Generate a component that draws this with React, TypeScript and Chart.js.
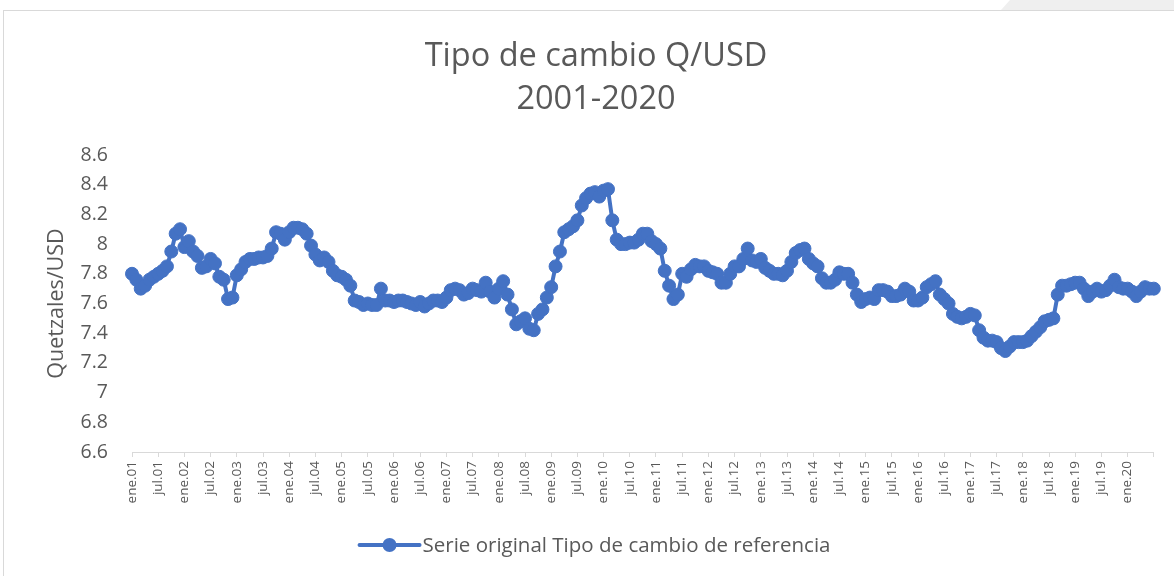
import { useEffect, useRef } from 'react';
import { Chart, registerables } from 'chart.js';

Chart.register(...registerables);

// ---- DATA ----
const yearSuffixes = ['01','02','03','04','05','06','07','08','09','10','11','12','13','14','15','16','17','18','19','20'];
const monthNames = ['ene','feb','mar','abr','may','jun','jul','ago','sep','oct','nov','dic'];

const v2001 = [7.80, 7.76, 7.70, 7.72, 7.76, 7.78, 7.80, 7.82, 7.85, 7.95, 8.07, 8.10];
const v2002 = [7.98, 8.02, 7.95, 7.92, 7.84, 7.85, 7.90, 7.87, 7.78, 7.76, 7.63, 7.64];
const v2003 = [7.79, 7.83, 7.88, 7.90, 7.90, 7.91, 7.91, 7.92, 7.97, 8.08, 8.07, 8.03];
const v2004 = [8.08, 8.11, 8.11, 8.10, 8.07, 7.99, 7.93, 7.89, 7.91, 7.88, 7.82, 7.79];
const v2005 = [7.78, 7.76, 7.72, 7.62, 7.61, 7.59, 7.60, 7.59, 7.59, 7.70, 7.62, 7.62];
const v2006 = [7.61, 7.62, 7.62, 7.61, 7.60, 7.59, 7.61, 7.58, 7.60, 7.62, 7.62, 7.61];
const v2007 = [7.64, 7.69, 7.70, 7.69, 7.66, 7.67, 7.70, 7.69, 7.68, 7.74, 7.68, 7.64];
const v2008 = [7.70, 7.75, 7.66, 7.56, 7.46, 7.48, 7.50, 7.43, 7.42, 7.53, 7.56, 7.64];
const v2009 = [7.71, 7.85, 7.95, 8.08, 8.10, 8.12, 8.16, 8.26, 8.31, 8.34, 8.35, 8.32];
const v2010 = [8.36, 8.37, 8.16, 8.03, 8.00, 8.00, 8.01, 8.01, 8.03, 8.07, 8.07, 8.02];
const v2011 = [8.00, 7.97, 7.82, 7.72, 7.63, 7.66, 7.80, 7.78, 7.83, 7.86, 7.85, 7.85];
const v2012 = [7.82, 7.81, 7.80, 7.74, 7.74, 7.80, 7.85, 7.85, 7.90, 7.97, 7.89, 7.88];
const v2013 = [7.90, 7.84, 7.82, 7.80, 7.80, 7.79, 7.82, 7.88, 7.94, 7.96, 7.97, 7.90];
const v2014 = [7.87, 7.85, 7.77, 7.74, 7.74, 7.76, 7.81, 7.80, 7.80, 7.74, 7.66, 7.61];
const v2015 = [7.63, 7.64, 7.63, 7.69, 7.69, 7.68, 7.65, 7.65, 7.66, 7.70, 7.68, 7.62];
const v2016 = [7.62, 7.64, 7.71, 7.73, 7.75, 7.66, 7.63, 7.60, 7.53, 7.51, 7.50, 7.51];
const v2017 = [7.53, 7.52, 7.42, 7.37, 7.35, 7.35, 7.34, 7.30, 7.28, 7.31, 7.34, 7.34];
const v2018 = [7.34, 7.35, 7.38, 7.41, 7.44, 7.48, 7.49, 7.50, 7.66, 7.72, 7.72, 7.73];
const v2019 = [7.74, 7.74, 7.70, 7.65, 7.68, 7.70, 7.68, 7.69, 7.72, 7.76, 7.71, 7.70];
const v2020 = [7.70, 7.68, 7.65, 7.68, 7.71, 7.70, 7.70];

const values = [
  ...v2001, ...v2002, ...v2003, ...v2004, ...v2005, ...v2006, ...v2007,
  ...v2008, ...v2009, ...v2010, ...v2011, ...v2012, ...v2013, ...v2014,
  ...v2015, ...v2016, ...v2017, ...v2018, ...v2019, ...v2020,
];

const categories: string[] = [];
yearSuffixes.forEach((y) => monthNames.forEach((m) => categories.push(m + '.' + y)));
categories.length = values.length;

const tickLabels = [
  'ene.01','jul.01','ene.02','jul.02','ene.03','jul.03','ene.04','jul.04','ene.05','jul.05',
  'ene.06','jul.06','ene.07','jul.07','ene.08','jul.08','ene.09','jul.09','ene.10','jul.10',
  'ene.11','jul.11','ene.12','jul.12','ene.13','jul.13','ene.14','jul.14','ene.15','jul.15',
  'ene.16','jul.16','ene.17','jul.17','ene.18','jul.18','ene.19','jul.19','ene.20',
];

const titleLines = ['Tipo de cambio Q/USD', '2001-2020'];
const yTitle = 'Quetzales/USD';
const seriesName = 'Serie original Tipo de cambio de referencia';

const BLUE = '#4472C4';
const TEXT = '#595959';
const FONT = "'Open Sans', 'DejaVu Sans', sans-serif";

const textPlugin = {
  id: 'customText',
  afterDraw(chart: any) {
    const ctx = chart.ctx;
    ctx.save();
    // title
    ctx.fillStyle = TEXT;
    ctx.textAlign = 'center';
    ctx.textBaseline = 'middle';
    ctx.font = `400 32.5px ${FONT}`;
    ctx.fillText(titleLines[0], 596, 57);
    ctx.fillText(titleLines[1], 596, 100);
    // legend
    ctx.font = `20.5px ${FONT}`;
    const tw = ctx.measureText(seriesName).width;
    const lineW = 60;
    const gap = 3;
    const total = lineW + gap + tw;
    const cx = 595;
    const y = 545;
    const x0 = cx - total / 2;
    ctx.strokeStyle = BLUE;
    ctx.lineWidth = 4;
    ctx.lineCap = 'round';
    ctx.beginPath();
    ctx.moveTo(x0, y);
    ctx.lineTo(x0 + lineW, y);
    ctx.stroke();
    ctx.fillStyle = BLUE;
    ctx.beginPath();
    ctx.arc(x0 + lineW / 2, y, 7, 0, Math.PI * 2);
    ctx.fill();
    ctx.fillStyle = TEXT;
    ctx.textAlign = 'left';
    ctx.fillText(seriesName, x0 + lineW + gap, y + 1);
    ctx.restore();
  },
};

export default function App() {
  const ref = useRef<HTMLCanvasElement | null>(null);

  useEffect(() => {
    if (!ref.current) return;
    const chart = new Chart(ref.current, {
      type: 'line',
      data: {
        labels: categories,
        datasets: [
          {
            label: seriesName,
            data: values,
            borderColor: BLUE,
            backgroundColor: BLUE,
            borderWidth: 4,
            borderJoinStyle: 'round',
            borderCapStyle: 'round',
            pointRadius: 6.5,
            pointBorderWidth: 1,
            pointBackgroundColor: BLUE,
            pointBorderColor: BLUE,
            tension: 0,
          },
        ],
      },
      options: {
        responsive: false,
        animation: false,
        layout: { padding: { left: 10, right: 19, top: 155, bottom: 0 } },
        plugins: {
          legend: { display: false },
          tooltip: { enabled: false },
          title: { display: false },
        },
        scales: {
          x: {
            type: 'category',
            offset: false,
            border: { display: true, color: '#d9d9d9', width: 1 },
            grid: {
              display: true,
              drawOnChartArea: false,
              drawTicks: true,
              tickLength: 5,
              color: (c: any) => (c.index % 6 === 0 ? '#d9d9d9' : 'rgba(0,0,0,0)'),
            },
            ticks: {
              autoSkip: false,
              minRotation: 90,
              maxRotation: 90,
              padding: 4,
              color: TEXT,
              font: { family: FONT, size: 13.5 },
              callback: (_v: any, index: number) =>
                index % 6 === 0 && tickLabels[index / 6] ? tickLabels[index / 6] : '',
            },
            afterFit: (scale: any) => {
              scale.height = 124;
            },
          },
          y: {
            min: 6.6,
            max: 8.6,
            border: { display: false },
            grid: { display: false, drawTicks: false },
            ticks: {
              stepSize: 0.2,
              padding: 24,
              color: TEXT,
              font: { family: FONT, size: 19.5 },
              callback: (v: any) => String(Math.round(Number(v) * 10) / 10),
            },
            title: {
              display: true,
              text: yTitle,
              color: TEXT,
              font: { family: FONT, size: 21.5 },
              padding: { top: 34, bottom: 0 },
            },
            afterFit: (scale: any) => {
              scale.width = 122;
            },
          },
        },
      },
      plugins: [textPlugin],
    });
    return () => chart.destroy();
  }, []);

  return (
    <div style={{ position: 'absolute', left: 0, top: 0, width: 1174, height: 576, overflow: 'hidden', background: '#fff' }}>
      <div
        style={{
          position: 'absolute', left: 0, top: 0, width: 1174, height: 10,
          background: '#efefef', clipPath: 'polygon(1010px 0, 1174px 0, 1174px 10px, 1001px 10px)',
        }}
      />
      <div
        style={{
          position: 'absolute', left: 3, top: 10, width: 1200, height: 600,
          border: '1px solid #d9d9d9', boxSizing: 'border-box',
        }}
      />
      <canvas ref={ref} width={1174} height={576} style={{ position: 'absolute', left: 0, top: 0 }} />
    </div>
  );
}
